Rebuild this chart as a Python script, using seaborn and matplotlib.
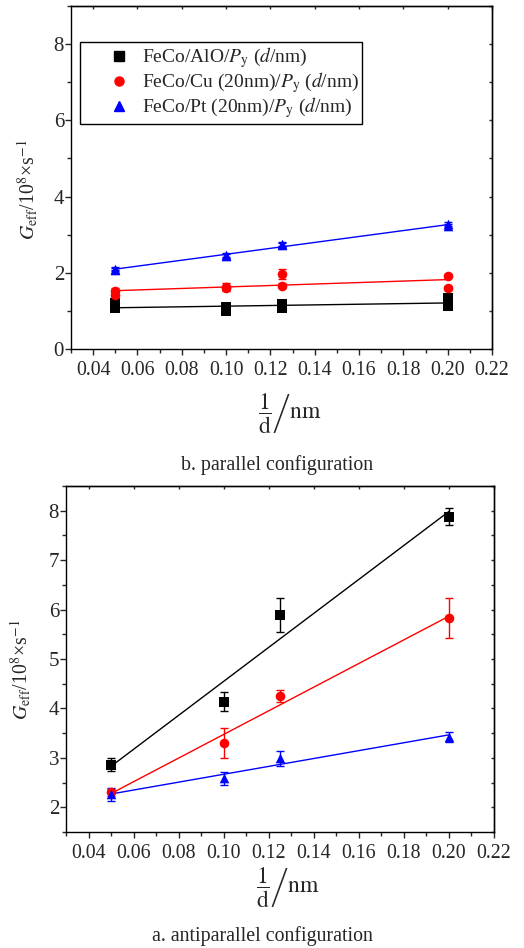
import numpy as np
import pandas as pd
import matplotlib
matplotlib.use("Agg")
import matplotlib.pyplot as plt
import seaborn as sns
from matplotlib.ticker import MultipleLocator

# ---------------- data ----------------
# (b) parallel configuration: two measurements per thickness
x_par = [0.05, 0.05, 0.10, 0.10, 0.125, 0.125, 0.20, 0.20]
alo_par = [1.20, 1.07, 1.11, 1.01, 1.18, 1.07, 1.35, 1.13]
alo_par_err = [0.05, 0.05, 0.05, 0.05, 0.05, 0.05, 0.05, 0.05]
cu_par = [1.53, 1.42, 1.62, 1.60, 1.96, 1.66, 1.92, 1.60]
cu_par_err = [0.07, 0.07, 0.10, 0.06, 0.13, 0.06, 0.04, 0.04]
pt_par = [2.10, 2.08, 2.46, 2.44, 2.75, 2.73, 3.27, 3.22]
pt_par_err = [0.04, 0.04, 0.05, 0.05, 0.05, 0.05, 0.05, 0.05]

# (a) antiparallel configuration
x_anti = [0.05, 0.10, 0.125, 0.20]
alo_anti = [2.86, 4.14, 5.89, 7.88]
alo_anti_err = [0.13, 0.20, 0.34, 0.17]
cu_anti = [2.30, 3.30, 4.26, 5.83]
cu_anti_err = [0.07, 0.30, 0.12, 0.40]
pt_anti = [2.26, 2.59, 2.99, 3.43]
pt_anti_err = [0.13, 0.13, 0.15, 0.10]

series_labels = [r"FeCo/AlO/$P_{\rm y}$ ($d$/nm)",
                 r"FeCo/Cu (20nm)/$P_{\rm y}$ ($d$/nm)",
                 r"FeCo/Pt (20nm)/$P_{\rm y}$ ($d$/nm)"]
series_colors = ["#000000", "#ff0000", "#0000ff"]
series_markers = ["s", "o", "^"]
x_ticks = [0.04, 0.06, 0.08, 0.10, 0.12, 0.14, 0.16, 0.18, 0.20, 0.22]

# ---------------- style ----------------
sns.set_theme(style="ticks")
plt.rcParams["font.family"] = ["Liberation Serif", "DejaVu Serif"]
plt.rcParams["mathtext.fontset"] = "stix"
plt.rcParams["axes.linewidth"] = 1.0
FS = 14.3

fig = plt.figure(figsize=(5.24, 9.48), dpi=100)
W, H = 524, 948
ax_b = fig.add_axes([71 / W, (H - 349) / H, (492 - 71) / W, (349 - 6) / H])
ax_a = fig.add_axes([66 / W, (H - 832) / H, (494 - 66) / W, (832 - 486) / H])


def draw(ax, x, ys, errs, minor_y):
    for y, e, c, m in zip(ys, errs, series_colors, series_markers):
        df = pd.DataFrame({"x": x, "y": y})
        sns.regplot(data=df, x="x", y="y", ax=ax, ci=None, scatter=False,
                    truncate=True, color=c, line_kws={"lw": 1.0})
        ax.errorbar(x, y, yerr=e, fmt="none", ecolor=c, elinewidth=1.0,
                    capsize=3, capthick=1.0, zorder=3)
        sns.scatterplot(data=df, x="x", y="y", ax=ax, color=c, marker=m,
                        s=48, edgecolor=c, linewidth=0, zorder=4,
                        legend=False)
    ax.set_xlim(0.03, 0.22)
    ax.set_xticks(x_ticks)
    ax.set_xticklabels([f"{t:.2f}" for t in x_ticks])
    ax.xaxis.set_minor_locator(MultipleLocator(0.01))
    ax.yaxis.set_minor_locator(MultipleLocator(minor_y))
    ax.tick_params(axis="both", which="major", direction="out", length=4,
                   width=1.0, labelsize=FS)
    ax.tick_params(axis="both", which="minor", direction="out", length=3,
                   width=1.0)
    ax.tick_params(axis="x", which="major", pad=4.5)
    ax.tick_params(axis="y", which="major", pad=1, labelsize=FS + 0.7)
    ax.tick_params(right=False, top=False, labeltop=False, labelright=False)
    for sp in ax.spines.values():
        sp.set_visible(True)
        sp.set_color("black")
    # tiny inward ticks on top and right
    sy = ax.secondary_yaxis("right")
    sy.yaxis.set_major_locator(MultipleLocator(minor_y))
    sy.tick_params(direction="in", length=2, width=1.0, labelright=False)
    sx = ax.secondary_xaxis("top")
    sx.xaxis.set_major_locator(MultipleLocator(0.02))
    sx.tick_params(direction="in", length=2, width=1.0, labeltop=False)
    ax.set_ylabel(r"$G_{\rm eff}$/10$^{8}$×s$^{-1}$", fontsize=FS)
    ax.set_xlabel(r"$\left.\dfrac{1}{\rm d}\right/\mathrm{nm}$", fontsize=17)


draw(ax_b, x_par, [alo_par, cu_par, pt_par],
     [alo_par_err, cu_par_err, pt_par_err], 1.0)
ax_b.set_ylim(0, 9)
ax_b.set_yticks([0, 2, 4, 6, 8])
ax_b.xaxis.set_label_coords((290 - 71) / 421, (349 - 392) / 343)
ax_b.yaxis.set_label_coords((40 - 71) / 421, (349 - 190) / 343)

draw(ax_a, x_anti, [alo_anti, cu_anti, pt_anti],
     [alo_anti_err, cu_anti_err, pt_anti_err], 0.5)
ax_a.set_ylim(1.5, 8.5)
ax_a.set_yticks([2, 3, 4, 5, 6, 7, 8])
ax_a.xaxis.set_label_coords((288 - 66) / 428, (832 - 866) / 346)
ax_a.yaxis.set_label_coords((33 - 66) / 428, (832 - 670) / 346)

# legend
handles = [plt.Line2D([], [], ls="none", marker=m, color=c, markersize=6.5)
           for c, m in zip(series_colors, series_markers)]
leg = ax_b.legend(handles, series_labels, loc="upper left",
                  bbox_to_anchor=((80 - 71) / 421, (349 - 42) / 343), fontsize=14,
                  frameon=True, fancybox=False, edgecolor="black",
                  framealpha=1, borderpad=0.18, labelspacing=0.0,
                  handletextpad=-0.6, handlelength=3.6, borderaxespad=0)
leg.get_frame().set_linewidth(1.0)

fig.text(277 / W, 1 - 465 / H, "b. parallel configuration",
         ha="center", va="center", fontsize=FS)
fig.text(262 / W, 1 - 936 / H, "a. antiparallel configuration",
         ha="center", va="center", fontsize=FS)

fig.savefig("out.png", dpi=100)
